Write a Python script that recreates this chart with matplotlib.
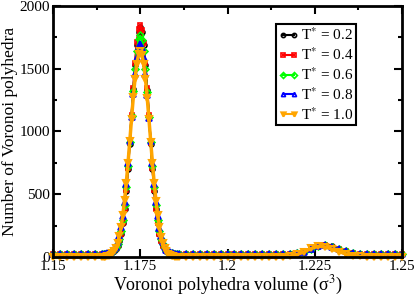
import matplotlib
matplotlib.use("Agg")
import matplotlib.pyplot as plt
from matplotlib.ticker import MultipleLocator, FixedLocator

plt.rcParams['font.family'] = 'Liberation Serif'
plt.rcParams['mathtext.fontset'] = 'stix'

# volume bins (sigma^3): coarse on the flat parts, fine across the main peak
vol = [1.150, 1.152, 1.154, 1.156, 1.158, 1.160, 1.162,
       1.1640, 1.1645, 1.1650, 1.1655, 1.1660, 1.1665, 1.1670, 1.1675, 1.1680, 1.1685,
       1.1690, 1.1695, 1.1700, 1.1705, 1.1710, 1.1715, 1.1720, 1.1725, 1.1730, 1.1735,
       1.1740, 1.1745, 1.1750, 1.1755, 1.1760, 1.1765, 1.1770, 1.1775, 1.1780, 1.1785,
       1.1790, 1.1795, 1.1800, 1.1805, 1.1810, 1.1815, 1.1820, 1.1825, 1.1830, 1.1835,
       1.1840, 1.1845, 1.1850, 1.1855, 1.1860,
       1.188, 1.190, 1.192, 1.194, 1.196, 1.198, 1.200, 1.202, 1.204, 1.206, 1.208, 1.210, 1.212, 1.214,
       1.216, 1.218, 1.220, 1.222, 1.224, 1.226, 1.228, 1.230, 1.232, 1.234, 1.236, 1.238, 1.240,
       1.242, 1.244, 1.246, 1.248, 1.250]

n_02 = [25, 25, 25, 25, 25, 25, 25,
        25, 25, 25, 26, 28, 31, 36, 45, 61, 86, 126, 186, 269, 382, 527, 702, 904, 1121, 1335, 1532, 1691, 1794,
        1830,
        1790, 1688, 1530, 1330, 1118, 900, 700, 524, 380, 267, 185, 124, 85, 60, 44, 36, 31, 28, 26, 25, 25, 25,
        25, 25, 25, 25, 25, 25, 25, 25, 25, 25, 25, 25, 25, 25,
        25, 25, 27, 40, 62, 86, 98, 84, 64, 46, 33, 27, 25,
        25, 25, 25, 25, 25]
n_04 = [25, 25, 25, 25, 25, 25, 25,
        25, 25, 25, 26, 28, 31, 36, 45, 61, 87, 128, 187, 271, 386, 534, 709, 915, 1133, 1350, 1549, 1710, 1814,
        1850,
        1810, 1705, 1545, 1346, 1130, 912, 706, 531, 384, 270, 186, 127, 86, 60, 45, 36, 31, 28, 26, 25, 25, 25,
        25, 25, 25, 25, 25, 25, 25, 25, 25, 25, 25, 25, 25, 25,
        25, 25, 27, 41, 63, 88, 96, 83, 63, 45, 33, 27, 25,
        25, 25, 25, 25, 25]
n_06 = [25, 25, 25, 25, 25, 25, 25,
        25, 25, 26, 27, 29, 33, 40, 52, 72, 102, 147, 211, 298, 415, 557, 728, 919, 1121, 1320, 1499, 1641, 1734,
        1765,
        1730, 1638, 1495, 1316, 1118, 915, 725, 554, 412, 296, 209, 145, 100, 71, 51, 40, 33, 29, 27, 26, 25, 25,
        25, 25, 25, 25, 25, 25, 25, 25, 25, 25, 25, 25, 25, 25,
        25, 25, 28, 42, 65, 85, 93, 82, 62, 44, 32, 27, 25,
        25, 25, 25, 25, 25]
n_08 = [25, 25, 25, 25, 25, 25, 25,
        26, 26, 27, 28, 32, 37, 46, 60, 83, 117, 167, 236, 327, 442, 584, 749, 928, 1115, 1298, 1460, 1589, 1672,
        1700,
        1668, 1585, 1456, 1294, 1111, 924, 745, 580, 440, 325, 234, 165, 116, 82, 59, 45, 37, 32, 28, 27, 26, 26,
        25, 25, 25, 25, 25, 25, 25, 25, 25, 25, 25, 25, 25, 25,
        25, 25, 28, 42, 64, 84, 92, 80, 62, 45, 33, 27, 25,
        25, 25, 25, 25, 25]
n_10 = [0, 0, 0, 0, 0, 0, 0,
        1, 1, 3, 5, 9, 16, 28, 45, 72, 111, 165, 238, 333, 451, 590, 751, 923, 1100, 1271, 1420, 1538, 1614,
        1640,
        1610, 1535, 1416, 1268, 1097, 920, 748, 588, 449, 331, 236, 163, 110, 70, 44, 27, 15, 8, 5, 3, 1, 1,
        0, 0, 0, 0, 0, 0, 0, 0, 0, 0, 0, 0, 0, 0,
        3, 8, 20, 42, 68, 86, 80, 62, 42, 24, 11, 4, 1,
        0, 0, 0, 0, 0]

fig = plt.figure(figsize=(4.15, 2.98), dpi=100)
ax = fig.add_axes([0.1277, 0.1376, 0.841, 0.8423])

ax.plot(vol, n_02, color='black', marker='o', ms=3.5, mfc='none', mew=1.2, lw=1.5, label=r'T$^{*}$ = 0.2', clip_on=False)
ax.plot(vol, n_04, color='#ff0000', marker='s', ms=3.5, mfc='none', mew=1.2, lw=1.5, label=r'T$^{*}$ = 0.4', clip_on=False)
ax.plot(vol, n_06, color='#00ff00', marker='D', ms=3.5, mfc='none', mew=1.2, lw=1.5, label=r'T$^{*}$ = 0.6', clip_on=False)
ax.plot(vol, n_08, color='#0000ff', marker='^', ms=4, mfc='none', mew=1.2, lw=1.5, label=r'T$^{*}$ = 0.8', clip_on=False)
ax.plot(vol, n_10, color='#ffa500', marker='v', ms=5, mfc='none', mew=1.5, lw=2.5, label=r'T$^{*}$ = 1.0', clip_on=False)

ax.set_xlim(1.15, 1.25)
ax.set_ylim(0, 2000)
ax.xaxis.set_major_locator(FixedLocator([1.15, 1.175, 1.2, 1.225, 1.25]))
ax.set_xticklabels(['1.15', '1.175', '1.2', '1.225', '1.25'])
ax.xaxis.set_minor_locator(MultipleLocator(0.0125))
ax.yaxis.set_major_locator(MultipleLocator(500))
ax.yaxis.set_minor_locator(MultipleLocator(250))
ax.tick_params(which='both', direction='in', top=True, right=True, width=1.5, labelsize=11, pad=2)
ax.tick_params(which='major', length=6)
ax.tick_params(which='minor', length=3)
for s in ax.spines.values():
    s.set_linewidth(2)

ax.set_xlabel('Voronoi polyhedra volume (σ$^3$)', fontsize=13, labelpad=1)
ax.set_ylabel('Number of Voronoi polyhedra', fontsize=12.5, labelpad=1)

leg = ax.legend(loc='upper left', bbox_to_anchor=(0.639, 0.928), fontsize=11, numpoints=2,
                handlelength=1.3, handletextpad=0.2, labelspacing=0.22, borderpad=0.15,
                borderaxespad=0, fancybox=False, framealpha=1, edgecolor='black')
leg.get_frame().set_linewidth(1.5)
for h in leg.legend_handles:
    h.set_markersize(3)
    h.set_linewidth(1.5)

plt.savefig('out.png', dpi=100)
plt.close()
